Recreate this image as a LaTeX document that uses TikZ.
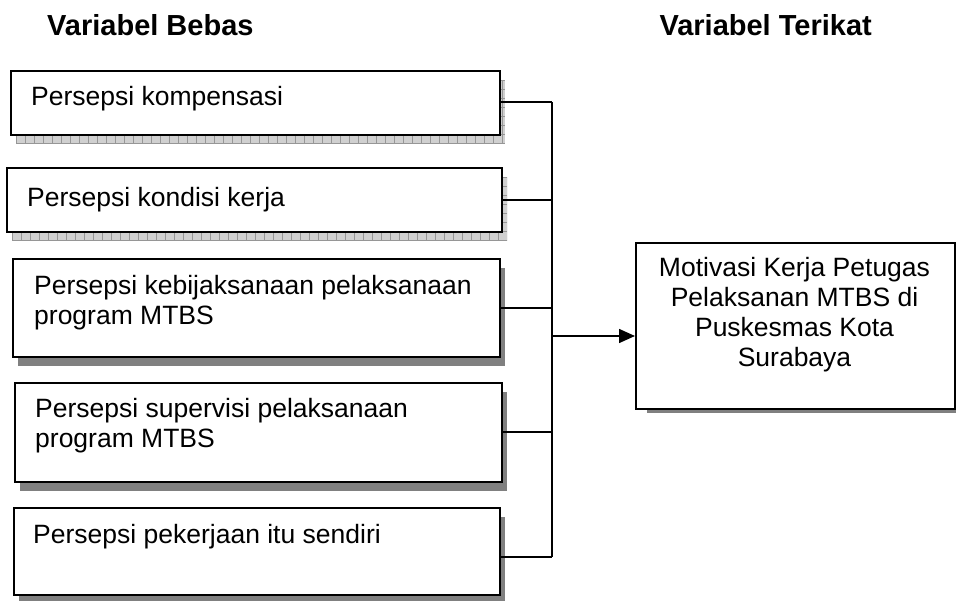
\documentclass[tikz,border=0pt]{standalone}
\usepackage{fontspec}
\setmainfont{Liberation Sans}
\usetikzlibrary{arrows.meta,calc}
\definecolor{shdark}{RGB}{128,128,128}
\definecolor{shlight}{RGB}{208,208,208}
\definecolor{shgrid}{RGB}{150,150,150}
\begin{document}
\begin{tikzpicture}[x=1pt,y=-1pt,
  box/.style={draw=black, line width=1.7pt, fill=white, anchor=north west, inner sep=0pt},
  lbl/.style={anchor=base west, inner sep=0pt, font=\fontsize{26.5}{30}\selectfont},
  clbl/.style={anchor=base, inner sep=0pt, font=\fontsize{26.5}{30}\selectfont},
  ttl/.style={inner sep=0pt, font=\fontsize{29}{33}\selectfont\bfseries},
  conn/.style={line width=1.5pt},
  darksh/.style={fill=shdark, draw=none},
  lightsh/.style={fill=shlight, draw=none},
  gridsh/.style={draw=shgrid, line width=0.7pt}
]
\useasboundingbox (0,0) rectangle (956,601);

% titles
\node[ttl, anchor=base west] (tb) at (47,36) {Variabel Bebas};
\node[ttl, anchor=base east] (tt) at (872,36) {Variabel Terikat};

% patterned shadows (boxes 1 and 2)
\begin{scope}
  \clip (16,80) rectangle (505,144);
  \fill[lightsh] (16,80) rectangle (505,144);
  \foreach \x in {16,25,...,505} \draw[gridsh] (\x,80) -- (\x,144);
  \foreach \y in {80,89,...,144} \draw[gridsh] (16,\y) -- (505,\y);
\end{scope}
\begin{scope}
  \clip (12,177) rectangle (507,241);
  \fill[lightsh] (12,177) rectangle (507,241);
  \foreach \x in {12,21,...,507} \draw[gridsh] (\x,177) -- (\x,241);
  \foreach \y in {177,186,...,241} \draw[gridsh] (12,\y) -- (507,\y);
\end{scope}

% solid shadows
\fill[darksh] (18,268) rectangle (505,366);
\fill[darksh] (20,392) rectangle (507,491);
\fill[darksh] (19,517) rectangle (505,604);
\fill[darksh] (647,247) rectangle (966,413);

% boxes
\node[box, minimum width=489pt, minimum height=64pt] (b1) at (10,70) {};
\node[box, line width=2.4pt, minimum width=495pt, minimum height=64pt] (b2) at (6,167) {};
\node[box, minimum width=487pt, minimum height=98pt] (b3) at (12,258) {};
\node[box, minimum width=487pt, minimum height=99pt] (b4) at (14,382) {};
\node[box, minimum width=486pt, minimum height=87pt] (b5) at (13,507) {};
\node[box, minimum width=319pt, minimum height=166pt] (rb) at (635,242) {};

% labels
\node[lbl] (t1) at (31,106) {Persepsi kompensasi};
\node[lbl] (t2) at (27,207) {Persepsi kondisi kerja};
\node[lbl] (t3a) at (34,295) {Persepsi kebijaksanaan pelaksanaan};
\node[lbl] (t3b) at (34,325) {program MTBS};
\node[lbl] (t4a) at (35,418) {Persepsi supervisi pelaksanaan};
\node[lbl] (t4b) at (35,448) {program MTBS};
\node[lbl] (t5) at (33,543) {Persepsi pekerjaan itu sendiri};

\node[clbl] (m1) at (794.5,277) {Motivasi Kerja Petugas};
\node[clbl] (m2) at (794.5,307) {Pelaksanan MTBS di};
\node[clbl] (m3) at (794.5,337) {Puskesmas Kota};
\node[clbl] (m4) at (794.5,367) {Surabaya};

% connectors
\coordinate (j1) at (552,102);
\coordinate (j2) at (552,200);
\coordinate (j3) at (552,308);
\coordinate (j4) at (552,432);
\coordinate (j5) at (552,557);
\coordinate (ja) at (552,336);

\draw[conn] (b1.east |- j1) -- (j1);
\draw[conn] (b2.east |- j2) -- (j2);
\draw[conn] (b3.east |- j3) -- (j3);
\draw[conn] (b4.east |- j4) -- (j4);
\draw[conn] (b5.east |- j5) -- (j5);
\draw[conn] (j1) -- (j5);
\draw[conn, -{Triangle[length=16pt,width=14pt]}] (ja) -- (ja -| rb.west);
\end{tikzpicture}
\end{document}
